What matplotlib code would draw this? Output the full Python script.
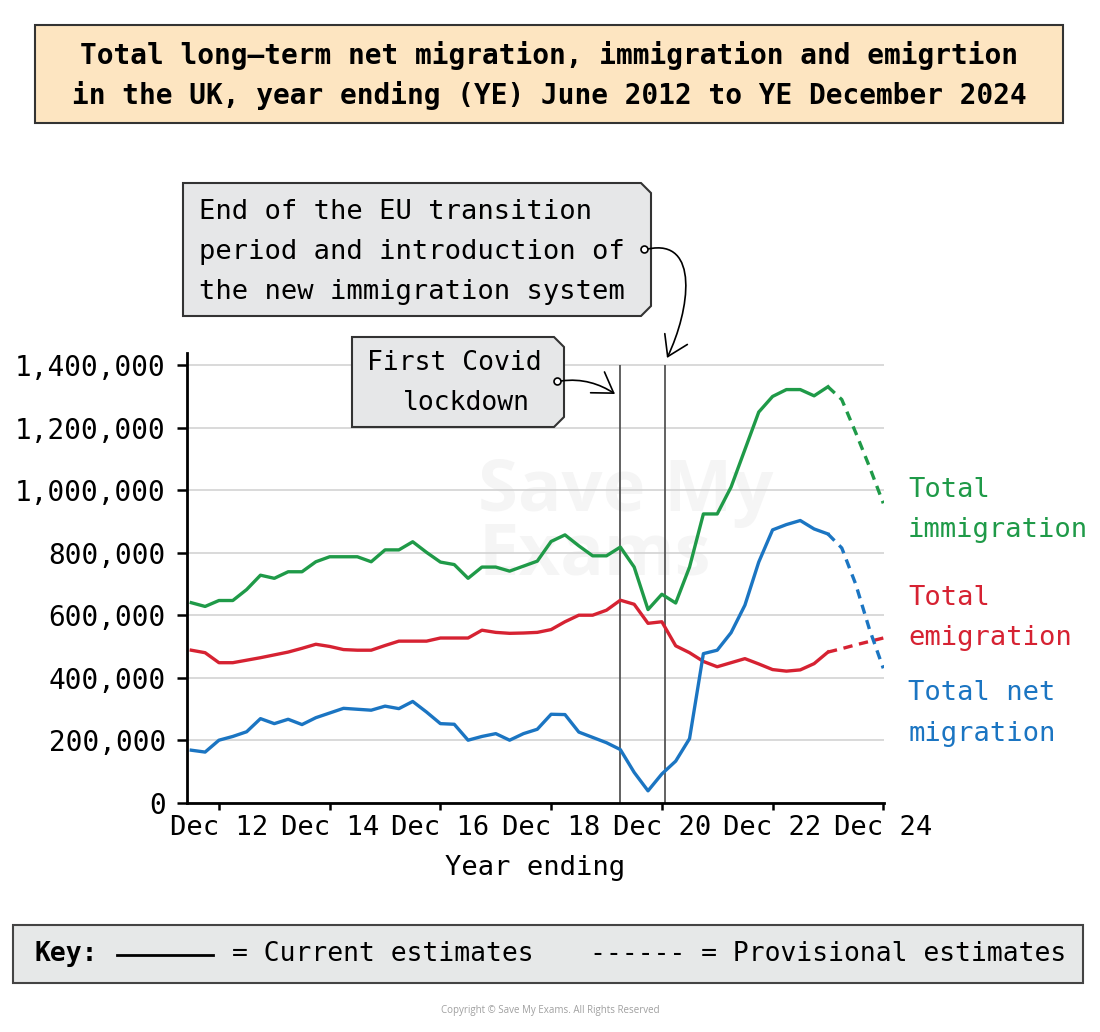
import matplotlib
matplotlib.use("Agg")
import matplotlib.pyplot as plt
from matplotlib.patches import Polygon, Rectangle, FancyArrowPatch
from matplotlib.path import Path
from matplotlib.ticker import FuncFormatter

# year ending Jun 12 ... Dec 24, quarterly
months = ["Mar", "Jun", "Sep", "Dec"]
quarter_labels = [f"{m} {y % 100:02d}" for y in range(2012, 2025) for m in months][1:]

# thousands
immigration = [640, 628, 647, 647, 682, 728, 718, 739, 739, 771,
               787, 787, 787, 771, 809, 809, 835, 801, 770, 762,
               718, 754, 754, 741, 757, 773, 836, 857, 822, 790,
               790, 818, 754, 618, 667, 639, 754, 924, 924, 1010,
               1130, 1250, 1300, 1322, 1322, 1302, 1331, 1290, 1185, 1075, 958]
emigration = [488, 480, 448, 448, 456, 464, 473, 482, 494, 507,
              500, 490, 488, 488, 503, 517, 517, 517, 527, 527,
              527, 552, 545, 542, 543, 545, 554, 579, 600, 600,
              616, 648, 635, 574, 579, 502, 480, 452, 435, 448,
              461, 444, 426, 421, 425, 445, 482, 493, 505, 516, 527]
net_migration = [168, 162, 200, 212, 227, 269, 253, 267, 250, 272,
                 287, 302, 299, 296, 309, 301, 324, 290, 253, 251,
                 200, 212, 221, 200, 221, 235, 283, 282, 226, 209,
                 192, 170, 97, 38, 92, 133, 205, 477, 488, 544,
                 632, 770, 873, 890, 903, 876, 860, 815, 700, 555, 430]
provisional_from = "Dec 23"

tick_labels = ["Dec 12", "Dec 14", "Dec 16", "Dec 18", "Dec 20", "Dec 22", "Dec 24"]
covid_lockdown = "Mar 20"
eu_transition_end = "Dec 20"

GREEN = "#1f9a48"
RED = "#d62232"
BLUE = "#1b75c2"

plt.rcParams["font.family"] = ["DejaVu Sans Mono", "DejaVu Sans"]

fig = plt.figure(figsize=(11, 10.32), dpi=100)
ax = fig.add_axes([186.7 / 1100, 1 - 802.7 / 1032, (884 - 186.7) / 1100, 450 / 1032])

x = list(range(len(quarter_labels)))
cut = quarter_labels.index(provisional_from) + 1
for vals, col in [(immigration, GREEN), (emigration, RED), (net_migration, BLUE)]:
    v = [a * 1000 for a in vals]
    ax.plot(x[:cut], v[:cut], color=col, lw=2.4, zorder=3)
    ax.plot(x[cut - 1:], v[cut - 1:], color=col, lw=2.4, ls=(0, (2.8, 2.0)), zorder=3)

# event lines
xc = quarter_labels.index(covid_lockdown)
xe = quarter_labels.index(eu_transition_end) + 0.25
ax.vlines([xc, xe], 0, 1400000, color="#555555", lw=1.3, zorder=2)

ax.set_xlim(-0.33, 50.05)
ax.set_ylim(0, 1440000)
ax.set_yticks(range(0, 1400001, 200000))
ax.yaxis.set_major_formatter(FuncFormatter(lambda v, p: f"{int(v):,}"))
ax.set_xticks([quarter_labels.index(t) for t in tick_labels], tick_labels)
ax.yaxis.grid(True, color="#d3d3d3", lw=1.2)
ax.set_axisbelow(True)
for s in ["top", "right"]:
    ax.spines[s].set_visible(False)
for s in ["left", "bottom"]:
    ax.spines[s].set_linewidth(2)
ax.tick_params(axis="y", length=7, width=1.8, labelsize=20, pad=8)
ax.tick_params(axis="x", length=5, width=1.8, labelsize=19.5, pad=4)
ax.set_xlabel("Year ending", fontsize=19.5, labelpad=10)

ax.text(0.418, 0.77, "Save My\nExams", transform=ax.transAxes, fontsize=52,
        fontweight="bold", family="Open Sans", color="#f5f5f5", va="top",
        ha="left", linespacing=0.85, zorder=0.5)

# overlay in pixel coordinates for boxes and notes
ov = fig.add_axes([0, 0, 1, 1], zorder=5)
ov.set_xlim(0, 1100)
ov.set_ylim(1032, 0)
ov.axis("off")
ov.patch.set_alpha(0)


def tag_box(x0, y0, x1, y1, c=10):
    pts = [(x0, y0), (x1 - c, y0), (x1, y0 + c), (x1, y1 - c), (x1 - c, y1), (x0, y1)]
    ov.add_patch(Polygon(pts, closed=True, fc="#e6e7e8", ec="#333333", lw=1.5))


# title
ov.add_patch(Rectangle((35, 25), 1028, 98, fc="#fde5c1", ec="#333333", lw=1.5))
ov.text(549, 55, "Total long—term net migration, immigration and emigrtion",
        fontsize=20, fontweight="bold", ha="center", va="center")
ov.text(549, 95, "in the UK, year ending (YE) June 2012 to YE December 2024",
        fontsize=20, fontweight="bold", ha="center", va="center")

# EU note
tag_box(183, 183, 651, 316)
for yy, s in [(212, "End of the EU transition"), (252, "period and introduction of"),
              (292, "the new immigration system")]:
    ov.text(199, yy, s, fontsize=19.5, ha="left", va="center")
ov.plot(644, 249, marker="o", ms=5, mfc="white", mec="black", mew=1.2)
p = Path([(648, 249), (700, 238), (690, 310), (667, 358)],
         [Path.MOVETO, Path.CURVE4, Path.CURVE4, Path.CURVE4])
ov.add_patch(FancyArrowPatch(path=p, arrowstyle="->,head_length=0.7,head_width=0.45",
                             mutation_scale=20, color="black", lw=1.2))

# Covid note
tag_box(352, 337, 564, 427)
ov.text(367, 363, "First Covid", fontsize=19, ha="left", va="center")
ov.text(403, 403, "lockdown", fontsize=19, ha="left", va="center")
ov.plot(557, 381, marker="o", ms=5, mfc="white", mec="black", mew=1.2)
p = Path([(561, 381), (582, 378), (600, 384), (615, 394)],
         [Path.MOVETO, Path.CURVE4, Path.CURVE4, Path.CURVE4])
ov.add_patch(FancyArrowPatch(path=p, arrowstyle="->,head_length=0.7,head_width=0.45",
                             mutation_scale=20, color="black", lw=1.2))

# series labels
for yy, s, col in [(490, "Total", GREEN), (530, "immigration", GREEN),
                   (598, "Total", RED), (638, "emigration", RED),
                   (693, "Total net", BLUE), (734, "migration", BLUE)]:
    ov.text(908, yy, s, fontsize=19.5, color=col, ha="left", va="center")

# key
ov.add_patch(Rectangle((13, 925), 1070, 58, fc="#e6e8e8", ec="#444444", lw=1.5))
ov.text(35, 954, "Key:", fontsize=19, fontweight="bold", ha="left", va="center")
ov.plot([117, 213], [955, 955], color="black", lw=2)
ov.text(232, 954, "= Current estimates", fontsize=19, ha="left", va="center")
ov.text(590, 954, "------ = Provisional estimates", fontsize=19, ha="left", va="center")

ov.text(550, 1011, "Copyright © Save My Exams. All Rights Reserved", fontsize=7,
        family="Open Sans", color="#a0a0a0", ha="center", va="center")

fig.savefig("out.png", dpi=100)
